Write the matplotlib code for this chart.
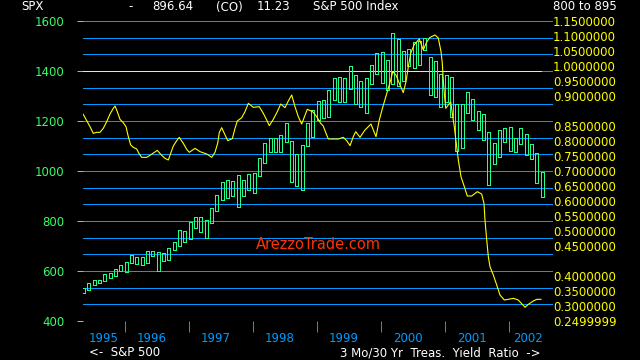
import numpy as np
import pandas as pd
import matplotlib
matplotlib.use("Agg")
import matplotlib.pyplot as plt
import matplotlib.transforms as mtransforms

# monthly S&P 500 bars, May 1995 .. Jul 2002 (body top / body bottom)
months = pd.date_range("1995-05-01", periods=87, freq="MS")
bar_top = [531, 551, 563, 563, 587, 592, 607, 623, 635, 664,
           655, 655, 679, 679, 675, 671, 691, 715, 763, 759,
           796, 815, 815, 803, 851, 903, 955, 963, 959, 983,
           963, 987, 991, 1051, 1111, 1131, 1131, 1143, 1191, 1119,
           1067, 1103, 1191, 1243, 1279, 1283, 1323, 1371, 1375, 1371,
           1419, 1383, 1359, 1371, 1423, 1471, 1475, 1443, 1551, 1527,
           1479, 1487, 1515, 1519, 1531, 1455, 1439, 1387, 1383, 1375,
           1267, 1267, 1315, 1287, 1239, 1227, 1155, 1111, 1163, 1171,
           1175, 1131, 1171, 1147, 1107, 1071, 995]
bar_bottom = [511, 523, 543, 551, 559, 571, 579, 600, 595, 631,
              627, 623, 631, 659, 601, 639, 643, 683, 699, 715,
              727, 771, 755, 731, 791, 839, 883, 891, 899, 855,
              899, 923, 911, 979, 1031, 1075, 1075, 1075, 1115, 955,
              939, 923, 1099, 1135, 1203, 1211, 1215, 1283, 1275, 1275,
              1327, 1267, 1255, 1231, 1347, 1387, 1351, 1323, 1347, 1339,
              1359, 1419, 1411, 1423, 1483, 1303, 1295, 1255, 1275, 1215,
              1079, 1091, 1231, 1203, 1163, 1123, 943, 1027, 1055, 1115,
              1079, 1075, 1107, 1063, 1047, 951, 895]

# 3 month / 30 year treasury yield ratio
ratio_dates = [1995.348, 1995.402, 1995.453, 1995.505, 1995.558, 1995.609, 1995.661, 1995.714, 1995.766, 1995.817,
               1995.844, 1995.880, 1995.922, 1995.973, 1996.016, 1996.052, 1996.089, 1996.130, 1996.183, 1996.223,
               1996.261, 1996.339, 1996.391, 1996.453, 1996.505, 1996.573, 1996.625, 1996.677, 1996.714, 1996.755,
               1996.808, 1996.848, 1996.911, 1996.964, 1997.005, 1997.094, 1997.172, 1997.277, 1997.355, 1997.406,
               1997.448, 1997.473, 1997.511, 1997.552, 1997.605, 1997.677, 1997.719, 1997.755, 1997.823, 1997.875,
               1997.927, 1998.005, 1998.098, 1998.161, 1998.214, 1998.255, 1998.317, 1998.380, 1998.433, 1998.500,
               1998.552, 1998.605, 1998.656, 1998.708, 1998.761, 1998.848, 1998.933, 1998.995, 1999.058, 1999.098,
               1999.141, 1999.177, 1999.255, 1999.333, 1999.411, 1999.464, 1999.516, 1999.567, 1999.605, 1999.672,
               1999.750, 1999.844, 1999.880, 1999.922, 1999.973, 2000.027, 2000.073, 2000.114, 2000.152, 2000.183,
               2000.234, 2000.297, 2000.348, 2000.391, 2000.427, 2000.464, 2000.516, 2000.598, 2000.661, 2000.714,
               2000.766, 2000.844, 2000.895, 2000.938, 2000.958, 2000.973, 2000.989, 2001.011, 2001.052, 2001.089,
               2001.114, 2001.145, 2001.183, 2001.208, 2001.250, 2001.302, 2001.348, 2001.417, 2001.505, 2001.573,
               2001.609, 2001.625, 2001.652, 2001.677, 2001.703, 2001.755, 2001.808, 2001.859, 2001.927, 2001.989,
               2002.067, 2002.145, 2002.208, 2002.250, 2002.302, 2002.380, 2002.433, 2002.500]
ratio_values = [0.870, 0.851, 0.833, 0.813, 0.816, 0.816, 0.828, 0.848, 0.871, 0.888,
                0.895, 0.878, 0.855, 0.845, 0.833, 0.803, 0.778, 0.771, 0.766, 0.751,
                0.741, 0.741, 0.747, 0.755, 0.762, 0.747, 0.738, 0.733, 0.753, 0.775,
                0.791, 0.801, 0.783, 0.765, 0.756, 0.768, 0.758, 0.751, 0.741, 0.756,
                0.783, 0.815, 0.830, 0.813, 0.791, 0.797, 0.828, 0.850, 0.860, 0.878,
                0.903, 0.891, 0.893, 0.873, 0.853, 0.836, 0.855, 0.878, 0.901, 0.890,
                0.910, 0.928, 0.893, 0.863, 0.841, 0.885, 0.878, 0.863, 0.843, 0.835,
                0.813, 0.796, 0.796, 0.796, 0.801, 0.791, 0.776, 0.803, 0.818, 0.801,
                0.823, 0.841, 0.823, 0.803, 0.853, 0.891, 0.921, 0.948, 0.973, 0.998,
                0.988, 0.958, 0.935, 0.968, 1.013, 1.053, 1.078, 1.096, 1.063, 1.087,
                1.101, 1.108, 1.099, 1.058, 1.023, 0.973, 0.933, 0.888, 0.898, 0.908,
                0.873, 0.833, 0.773, 0.733, 0.683, 0.653, 0.625, 0.625, 0.638, 0.631,
                0.603, 0.553, 0.493, 0.443, 0.413, 0.388, 0.358, 0.328, 0.313, 0.315,
                0.318, 0.313, 0.300, 0.291, 0.300, 0.310, 0.315, 0.315]

years = [1995, 1996, 1997, 1998, 1999, 2000, 2001, 2002]
spx_ticks = [400, 600, 800, 1000, 1200, 1400, 1600]
ratio_ticks = [1.15, 1.10, 1.05, 1.00, 0.95, 0.90, 0.85, 0.80, 0.75, 0.70,
               0.65, 0.60, 0.55, 0.50, 0.45, 0.40, 0.35, 0.30, 0.25]
ratio_labels = ["1.1500000", "1.1000000", "1.0500000", "1.0000000", "0.9500000",
                "0.9000000", "0.8500000", "0.8000000", "0.7500000", "0.7000000",
                "0.6500000", "0.6000000", "0.5500000", "0.5000000", "0.4500000",
                "0.4000000", "0.3500000", "0.3000000", "0.2499999"]

GREEN = "#22ff88"
LGREEN = "#33ff66"
BLUE = "#0099ff"
YELLOW = "#ffff00"
W, H = 640, 360
LW = 0.72  # one pixel

def fx(p):
    return p / W

def fy(p):
    return 1 - p / H

fig = plt.figure(figsize=(6.4, 3.6), dpi=100, facecolor="black")
ax = fig.add_axes([fx(83), fy(321), fx(553) - fx(83), fy(21) - fy(321)])
ax.set_facecolor("black")
ax2 = ax.twinx()
ax2.patch.set_visible(False)

xmin, xmax = 1995.344, 2002.6875
ax.set_xlim(xmin, xmax)
ax.set_ylim(400, 1600)
ax2.set_ylim(0.25, 1.15)

# ratio grid drawn on the S&P axes (both scales share the same pixel span)
def ratio_to_spx(r):
    return 400 + (np.asarray(r) - 0.25) / 0.9 * 1200

ax.hlines(ratio_to_spx(ratio_ticks), xmin, xmax, color=BLUE, lw=LW, zorder=1, antialiased=False)
ax.hlines(ratio_to_spx(1.0), xmin, ratio_dates[-1], color=YELLOW, lw=LW, zorder=2, antialiased=False)

xm = months.year + (months.month - 1) / 12 + 0.02
ax.bar(xm, np.array(bar_top) - np.array(bar_bottom), bottom=bar_bottom, width=0.046,
       fill=False, edgecolor=GREEN, linewidth=LW, zorder=3, antialiased=False)

ax2.plot(ratio_dates, ratio_values, color=YELLOW, lw=0.8, zorder=4)

for a in (ax, ax2):
    for s in a.spines.values():
        s.set_visible(False)

ax.set_yticks(spx_ticks)
ax.set_yticklabels([str(v) for v in spx_ticks])
ax.tick_params(axis="y", colors=LGREEN, length=4.5, width=LW, pad=9, labelsize=8.5)
ax2.set_yticks([])

ax.set_xticks(years[1:])
ax.tick_params(axis="x", colors=BLUE, length=8, width=LW, direction="out", labelbottom=False)

# year labels just after each year start
trans = mtransforms.blended_transform_factory(ax.transData, fig.transFigure)
for y in years:
    xl = min(max(y + 0.19, xmin + 0.09), xmax - 0.62)
    ax.text(xl, fy(338), str(y), transform=trans, color=BLUE, fontsize=8.5,
            ha="left", va="center")

# right-hand ratio labels (stacked on a 15 px pitch, two empty slots)
slots = [k for k in range(21) if k not in (6, 16)]
for slot, lab in zip(slots, ratio_labels):
    fig.text(fx(553), fy(22.7 + 15 * slot), lab, color=YELLOW, fontsize=8.5,
             ha="left", va="center")

# header
hdr = [(21, "SPX"), (128, "-"), (152, "896.64"), (216, "(CO)"), (257, "11.23"),
       (313, "S&P 500 Index"), (553, "800 to 895")]
for xp, t in hdr:
    fig.text(fx(xp), fy(7), t, color="white", fontsize=8.5, ha="left", va="center")

fig.text(fx(89), fy(353), "<-  S&P 500", color="white", fontsize=8.5, ha="left", va="center")
fig.text(fx(541), fy(353), "3 Mo/30 Yr  Treas.  Yield  Ratio  ->", color="white",
         fontsize=8.5, ha="right", va="center")

ax.text(0.5, 0.255, "ArezzoTrade.com", transform=ax.transAxes, color="#ff3300",
        fontsize=10.5, ha="center", va="center")

fig.savefig("out.png", dpi=100, facecolor="black")
